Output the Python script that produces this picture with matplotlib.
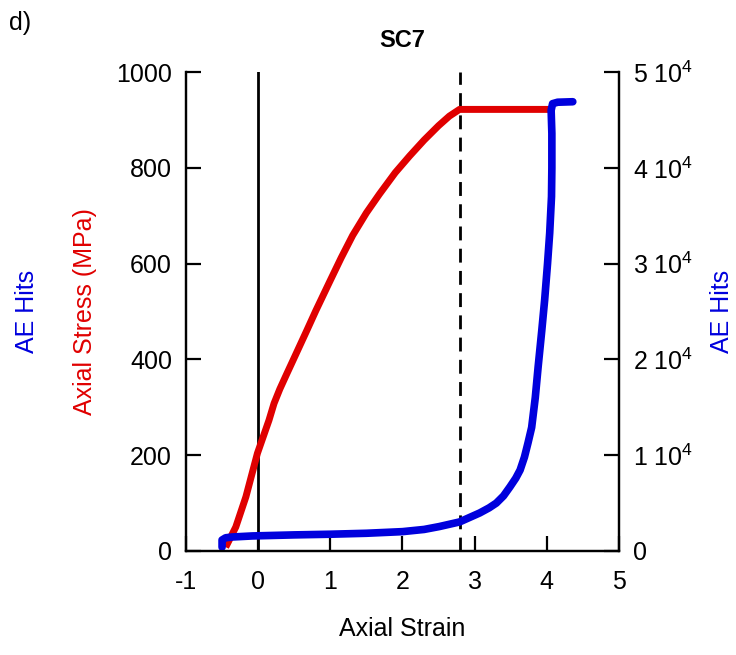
import numpy as np
import matplotlib.pyplot as plt

plt.rcParams['font.family'] = ['Liberation Sans', 'DejaVu Sans']
plt.rcParams['mathtext.fontset'] = 'custom'
plt.rcParams['mathtext.rm'] = 'Liberation Sans'
plt.rcParams['axes.unicode_minus'] = False
plt.rcParams['xtick.direction'] = 'in'
plt.rcParams['ytick.direction'] = 'in'

# stress-strain curve (red)
strain_s = [-0.45, -0.31, -0.17, -0.01, 0.15, 0.22, 0.3, 0.4, 0.48, 0.67, 0.8, 0.99, 1.15,
            1.31, 1.5, 1.68, 1.9, 2.1, 2.3, 2.5, 2.65, 2.79, 3.5, 4.1]
stress = [8, 50, 113, 204, 273, 308, 338, 371, 397, 459, 502, 562, 612,
          659, 706, 745, 790, 825, 858, 888, 908, 922, 922, 922]

# AE hits curve (blue)
strain_ae = [-0.5, -0.5, -0.45, -0.36, -0.08, 0.5, 1.0, 1.5, 2.0, 2.3, 2.51, 2.79,
             3.07, 3.2, 3.3, 3.4, 3.49, 3.57, 3.63, 3.69, 3.74, 3.79, 3.84, 3.88,
             3.93, 3.97, 4.01, 4.04, 4.065, 4.07, 4.07, 4.06, 4.08, 4.15, 4.36]
hits = [400, 1150, 1380, 1460, 1570, 1680, 1750, 1850, 2020, 2250, 2550, 3030,
        3970, 4500, 5000, 5750, 6700, 7600, 8450, 9800, 11300, 12900, 16000, 19240,
        23000, 26200, 30000, 33200, 37000, 40000, 43600, 46000, 46700, 46850, 46900]

x_ticks = [-1, 0, 1, 2, 3, 4, 5]
y_ticks = [0, 200, 400, 600, 800, 1000]
ae_ticks = [0, 10000, 20000, 30000, 40000, 50000]
ae_labels = ['0', r'1 10$^{4}$', r'2 10$^{4}$', r'3 10$^{4}$', r'4 10$^{4}$', r'5 10$^{4}$']

fig = plt.figure(figsize=(7.36, 6.55), dpi=100)
ax = fig.add_axes([0.2527, 0.1588, 0.5883, 0.7312])
ax2 = ax.twinx()

ax.axvline(0, color='black', lw=2)
ax.axvline(2.8, color='black', lw=2, ls=(0, (5, 3)))
ax.plot(strain_s, stress, color='#e00000', lw=5, solid_capstyle='butt', solid_joinstyle='round')
ax2.plot(strain_ae, hits, color='#0000dd', lw=5.5, solid_capstyle='round', solid_joinstyle='round')

ax.set_xlim(-1, 5)
ax.set_ylim(0, 1000)
ax2.set_ylim(0, 50000)
ax.set_xticks(x_ticks)
ax.set_yticks(y_ticks)
ax2.set_yticks(ae_ticks)
ax2.set_yticklabels(ae_labels)

for a in (ax, ax2):
    a.spines['top'].set_visible(False)
    for s in a.spines.values():
        s.set_linewidth(1.6)
    a.tick_params(direction='in', length=11, width=1.6, labelsize=18)
ax.tick_params(axis='x', pad=14)
ax.tick_params(axis='y', pad=10)
ax2.tick_params(axis='y', pad=10)

ax.set_xlabel('Axial Strain', fontsize=18, labelpad=16)
ax.set_ylabel('Axial Stress (MPa)', fontsize=18, color='#e00000', labelpad=14)
ax2.set_ylabel('AE Hits', fontsize=18, color='#0000dd', labelpad=12)
ax.set_title('SC7', fontsize=17, fontweight='bold', pad=18)
fig.text(0.037, 0.525, 'AE Hits', fontsize=18, color='#0000dd', rotation=90, ha='center', va='center')
fig.text(0.012, 0.965, 'd)', fontsize=18, ha='left', va='center')

fig.savefig('out.png', dpi=100)
